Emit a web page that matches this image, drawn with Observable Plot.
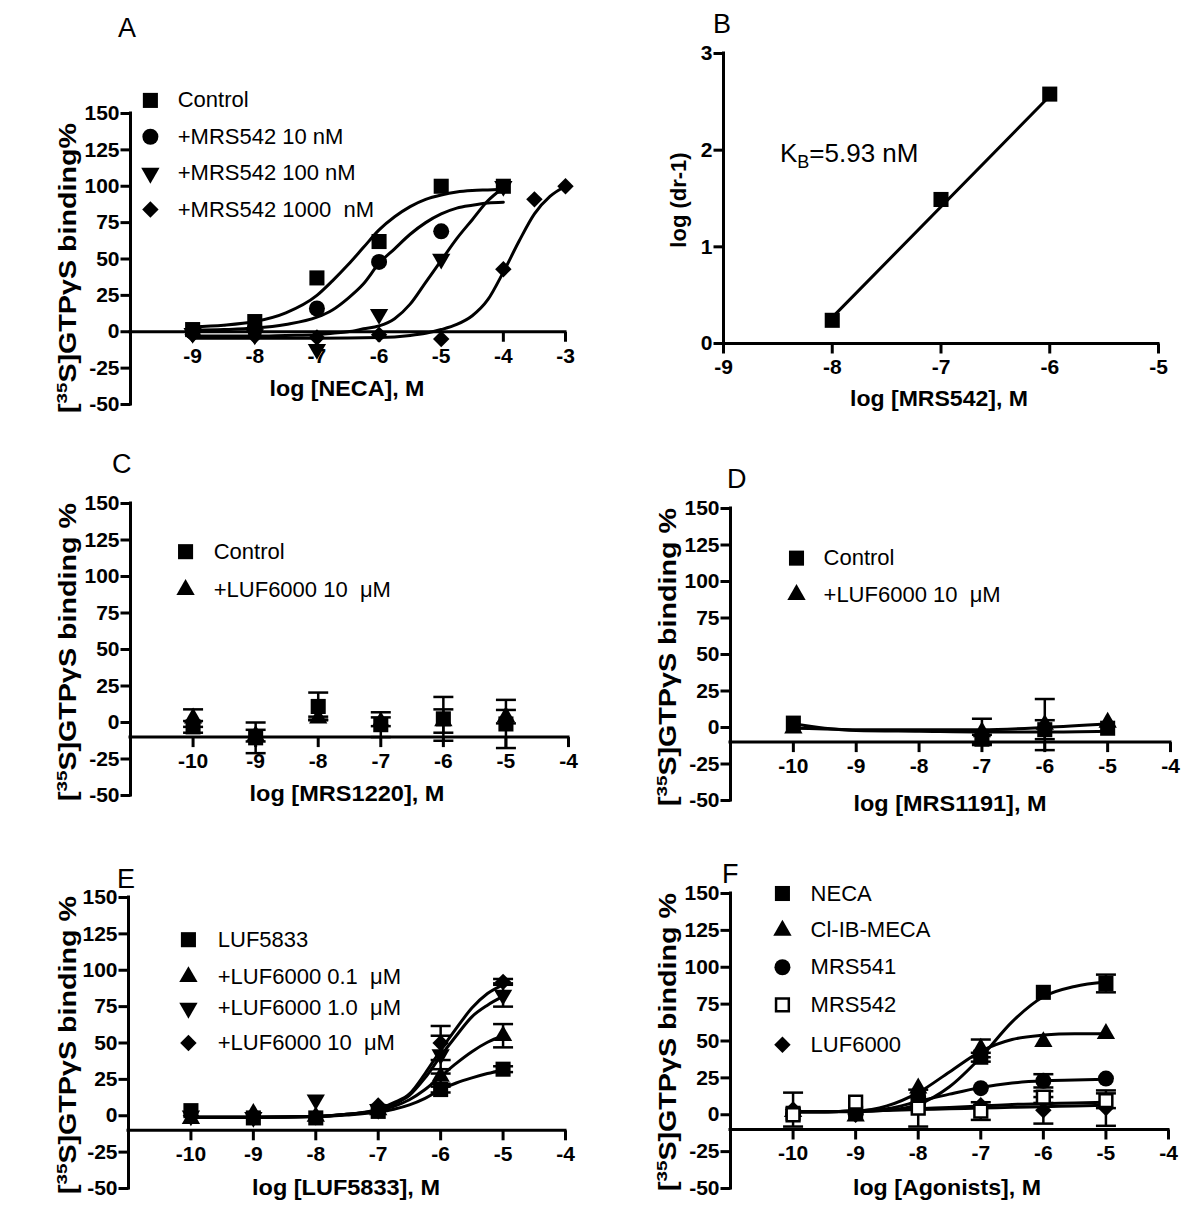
<!DOCTYPE html>
<html><head><meta charset="utf-8">
<script src="https://cdn.jsdelivr.net/npm/d3@7"></script>
<script src="https://cdn.jsdelivr.net/npm/@observablehq/plot@0.6"></script>
<style>
body{margin:0;background:#fff;}
#fig{position:relative;width:1200px;height:1220px;background:#fff;overflow:hidden;}
</style></head><body><div id="fig"></div>
<script>
// ---------------- DATA ----------------
// Panel A
const aDose = [-9, -8, -7, -6, -5, -4];
const aControl = [1.5, 7, 37, 62, 100, 100];
const aMrs10Dose = [-9, -8, -7, -6, -5];
const aMrs10 = [0, 2, 16, 48, 69];
const aMrs100 = [-1, -2, -12, 12, 50, 100];
const aMrs1000Dose = [-9, -8, -7, -6, -5, -4, -3.5, -3];
const aMrs1000 = [-2, -3, -4, -2, -5, 43, 91, 100];
const aFitDose = [-9, -8.5, -8, -7.5, -7, -6.75, -6.5, -6.25, -6, -5.75, -5.5, -5.25, -5, -4.75, -4.5, -4.25, -4];
const aFitControl = [3.5, 4.5, 7, 13, 25, 35, 46, 58, 70, 79, 86, 91, 94, 96, 97, 97.5, 98];
const aFitMrs10 = [1, 1.5, 2.5, 5, 10, 15, 23, 33, 47, 57, 67, 75, 81, 85, 87, 88.5, 89];
const aFitMrs100 = [-3, -3, -3, -2.5, -2, -1, 0, 2, 4, 9, 19, 34, 49, 64, 77, 90, 99];
const aFit1000Dose = [-9, -8, -7, -6, -5.5, -5.25, -5, -4.75, -4.5, -4.25, -4, -3.75, -3.5, -3.25, -3];
const aFitMrs1000 = [-4.5, -4.5, -4.5, -4, -2.5, -1, 1.5, 5, 11, 22, 41, 62, 81, 93, 100];
const aLegend = ["Control", "+MRS542 10 nM", "+MRS542 100 nM", "+MRS542 1000\u00a0 nM"];

// Panel B
const bDose = [-8, -7, -6];
const bLogDr = [0.24, 1.49, 2.58];
const bFitDose = [-8, -6];
const bFit = [0.27, 2.56];

// Panel C
const cDose = [-10, -9, -8, -7, -6, -5];
const cControl = [-3, -10.5, 11, -1.5, 2.5, -1];
const cControlErr = [4, 10.5, 9.5, 8.5, 15, 16.5];
const cLuf = [3, -9, 3, 0.5, 1, 4];
const cLufErr = [6, 4, 1, 3, 8, 4.6];
const cLegend = ["Control", "+LUF6000 10\u00a0 \u03bcM"];

// Panel D
const dDose = [-10, -7, -6, -5];
const dControl = [3, -8, -1.5, -0.5];
const dControlErr = [0, 3, 6.5, 0];
const dLuf = [-0.5, -3, 2, 3.5];
const dLufErr = [0, 9, 17.5, 0];
const dFitDose = [-10, -9.5, -9, -8, -7, -6, -5];
const dFitControl = [2.5, -0.5, -2, -2.5, -3, -3, -2.5];
const dFitLuf = [-0.5, -1, -1.5, -1.5, -1.5, 0, 2.5];
const dLegend = ["Control", "+LUF6000 10\u00a0 \u03bcM"];

// Panel E
const eDose = [-10, -9, -8, -7, -6, -5];
const eLuf5833 = [3.5, -1.5, -1.5, 3, 18, 32];
const eLuf5833Err = [0, 0, 0, 0, 2, 2];
const eLuf01 = [-2, 1.5, -0.5, 4, 27, 55];
const eLuf01Err = [0, 0, 0, 0, 5, 8];
const eLuf1 = [0, -1, 11, 4.5, 42, 83];
const eLuf1Err = [0, 0, 0, 0, 13, 8];
const eLuf10 = [0, -1, -1, 7, 50, 92];
const eLuf10Err = [0, 0, 0, 0, 11.7, 2];
const eFitDose = [-10, -9, -8, -7.5, -7, -6.75, -6.5, -6.25, -6, -5.75, -5.5, -5.25, -5];
const eFitLuf5833 = [-1, -1, -0.5, 0.5, 2.5, 4.5, 7.5, 12, 18, 22.5, 26, 29, 31.5];
const eFitLuf01 = [-1, -1, -0.5, 1, 3.5, 6.5, 11, 18, 27, 36, 44, 50.5, 55];
const eFitLuf1 = [-1, -1, -0.5, 1, 4, 8, 14, 26, 41, 55, 68, 76, 82];
const eFitLuf10 = [-1, -1, -0.5, 1, 4.5, 9, 15, 29, 45, 60, 74, 84, 90];
const eLegend = ["LUF5833", "+LUF6000 0.1\u00a0 \u03bcM", "+LUF6000 1.0\u00a0 \u03bcM", "+LUF6000 10\u00a0 \u03bcM"];

// Panel F
const fDose = [-10, -9, -8, -7, -6, -5];
const fNeca = [1, 1, 10, 39, 83, 89];
const fNecaErr = [0, 0, 0, 3, 0, 6];
const fClib = [2, -1, 18, 45, 49.5, 55];
const fClibErr = [0, 0, 0, 6, 0, 0];
const fMrs541 = [1, 1, 12, 18, 23, 24.5];
const fMrs541Err = [0, 0, 0, 0, 4.5, 0];
const fMrs542 = [0, 8.5, 4.5, 2.5, 12, 9.5];
const fMrs542Err = [0, 0, 12.5, 6, 4, 5];
const fLuf = [3.5, 0, 8, 6.5, 3, 4.5];
const fLufErr = [11.5, 0, 0, 0, 9, 12];
const fFitDose = [-10, -9.5, -9, -8.5, -8, -7.5, -7, -6.5, -6, -5.5, -5];
const fFitNeca = [2, 2, 2, 3, 7, 19, 39, 63, 80, 87, 90];
const fFitClib = [2, 2, 2.5, 6, 15, 29, 43, 51, 54, 55, 55];
const fFitMrs541 = [2, 2, 2.5, 4, 9, 14, 18.5, 21.5, 23, 23.5, 24];
const fFitMrs542 = [2, 2, 2.5, 3, 4, 5, 6, 7, 7.5, 8, 8.5];
const fFitLuf = [2, 2, 2.5, 3, 3.5, 4, 4.5, 5, 5.5, 6, 6.5];
const fLegend = ["NECA", "Cl-IB-MECA", "MRS541", "MRS542", "LUF6000"];

const pctTicks = [-50, -25, 0, 25, 50, 75, 100, 125, 150];

// ---------------- helpers ----------------
const FONT = '"Liberation Sans", Arial, Helvetica, sans-serif';
const S3 = Math.sqrt(3);
const vTick = {draw(c){ c.moveTo(0, 0); c.lineTo(0, 10); }};
const hTick = {draw(c){ c.moveTo(0, 0); c.lineTo(-10, 0); }};
const capSym = {draw(c){ c.moveTo(-10, 0); c.lineTo(10, 0); }};
const triDown = {draw(c, size){
  const y = -Math.sqrt(size / (S3 * 3));
  c.moveTo(0, -y * 2); c.lineTo(-S3 * y, y); c.lineTo(S3 * y, y); c.closePath();
}};
const SYM = {
  square: {symbol: "square", r: 8.5, fill: "black"},
  circle: {symbol: "circle", r: 8, fill: "black"},
  triangle: {symbol: "triangle", r: 6.8, fill: "black"},
  triDown: {symbol: triDown, r: 6.8, fill: "black"},
  diamond: {symbol: "diamond2", r: 7.4, fill: "black"},
  open: {symbol: "square", r: 7.2, fill: "white", stroke: "black", strokeWidth: 2.5}
};

const zip = (xs, ys, es) => xs.map((x, i) => ({x, y: ys[i], err: es ? es[i] : 0}));

function curve(xs, ys) {
  return Plot.line(zip(xs, ys), {x: "x", y: "y", stroke: "black", strokeWidth: 3, curve: "monotone-x"});
}
function errMarks(rows) {
  const e = rows.filter(d => d.err > 0);
  return [
    Plot.ruleX(e, {x: "x", y1: d => d.y - d.err, y2: d => d.y + d.err, stroke: "black", strokeWidth: 2.5}),
    Plot.dot(e.flatMap(d => [{x: d.x, y: d.y - d.err}, {x: d.x, y: d.y + d.err}]),
      {x: "x", y: "y", symbol: capSym, stroke: "black", strokeWidth: 2.5, fill: "none"})
  ];
}
function pts(rows, s) {
  return Plot.dot(rows, {x: "x", y: "y", symbol: s.symbol, r: s.r, fill: s.fill,
    stroke: s.stroke || "none", strokeWidth: s.strokeWidth || 0});
}
function legend(labels, syms, sx, tx, ys) {
  const rows = labels.map((label, i) => ({label, y: ys[i], s: syms[i]}));
  return [
    ...rows.map(r => Plot.dot([r], {x: () => sx, y: "y", symbol: r.s.symbol, r: r.s.r, fill: r.s.fill,
      stroke: r.s.stroke || "none", strokeWidth: r.s.strokeWidth || 0})),
    Plot.text(rows, {x: () => tx, y: "y", text: "label", textAnchor: "start", fontSize: 22, fontFamily: FONT})
  ];
}

const fig = document.getElementById("fig");
function panel(cfg) {
  const [x0, x1] = cfg.xDomain;
  const [mt, mr, mb, ml] = cfg.margin;
  const svg = Plot.plot({
    width: cfg.width, height: cfg.height,
    marginTop: mt, marginRight: mr, marginBottom: mb, marginLeft: ml,
    style: {fontFamily: FONT, background: "transparent", overflow: "visible", color: "black"},
    x: {domain: cfg.xDomain, axis: null},
    y: {domain: cfg.yDomain, axis: null},
    marks: [
      ...cfg.marks,
      Plot.ruleX([x0], {x: d => d, y1: () => cfg.yDomain[0], y2: () => cfg.yDomain[1], stroke: "black", strokeWidth: 3, strokeLinecap: "square"}),
      Plot.dot(cfg.yTicks, {x: () => x0, y: d => d, symbol: hTick, stroke: "black", strokeWidth: 3, fill: "none"}),
      Plot.text(cfg.yTicks, {x: () => x0, y: d => d, text: d => String(d), dx: -11, textAnchor: "end",
        fontWeight: "bold", fontSize: 21, fontFamily: FONT}),
      Plot.ruleY([cfg.axisY], {y: d => d, x1: () => x0, x2: () => x1, stroke: "black", strokeWidth: 3, strokeLinecap: "square"}),
      Plot.dot(cfg.xTicks, {x: d => d, y: () => cfg.axisY, symbol: vTick, stroke: "black", strokeWidth: 3, fill: "none"}),
      Plot.text(cfg.xTicks, {x: d => d, y: () => cfg.axisY, text: d => String(d), dy: 16, lineAnchor: "top",
        fontWeight: "bold", fontSize: 21, fontFamily: FONT})
    ]
  });
  svg.style.position = "absolute";
  svg.style.left = cfg.left + "px";
  svg.style.top = cfg.top + "px";
  fig.appendChild(svg);
}

// ---------------- Panel A ----------------
{
  const ctl = zip(aDose, aControl), m10 = zip(aMrs10Dose, aMrs10), m100 = zip(aDose, aMrs100), m1000 = zip(aMrs1000Dose, aMrs1000);
  panel({left: 0, top: 0, width: 600, height: 430, margin: [113, 35, 26, 130],
    xDomain: [-10, -3], yDomain: [-50, 150], xTicks: [-9, -8, -7, -6, -5, -4, -3], yTicks: pctTicks, axisY: 0,
    marks: [
      curve(aFitDose, aFitControl), curve(aFitDose, aFitMrs10), curve(aFitDose, aFitMrs100), curve(aFit1000Dose, aFitMrs1000),
      pts(m1000, SYM.diamond), pts(m100, SYM.triDown), pts(m10, SYM.circle), pts(ctl, SYM.square),
      ...legend(aLegend, [SYM.square, SYM.circle, SYM.triDown, SYM.diamond], -9.68, -9.24, [159, 134, 109, 84])
    ]});
}
// ---------------- Panel B ----------------
panel({left: 600, top: 0, width: 600, height: 430, margin: [53, 42, 87, 123],
  xDomain: [-9, -5], yDomain: [0, 3], xTicks: [-9, -8, -7, -6, -5], yTicks: [0, 1, 2, 3], axisY: 0,
  marks: [
    Plot.line(zip(bFitDose, bFit), {x: "x", y: "y", stroke: "black", strokeWidth: 3}),
    pts(zip(bDose, bLogDr), SYM.square)
  ]});
// ---------------- Panel C ----------------
{
  const ctl = zip(cDose, cControl, cControlErr), luf = zip(cDose, cLuf, cLufErr);
  panel({left: 0, top: 430, width: 600, height: 400, margin: [73, 32, 35, 130],
    xDomain: [-11, -4], yDomain: [-50, 150], xTicks: [-10, -9, -8, -7, -6, -5, -4], yTicks: pctTicks, axisY: -10,
    marks: [
      ...errMarks(ctl), ...errMarks(luf),
      pts(ctl, SYM.square), pts(luf, SYM.triangle),
      ...legend(cLegend, [SYM.square, SYM.triangle], -10.12, -9.67, [117, 91])
    ]});
}
// ---------------- Panel D ----------------
{
  const ctl = zip(dDose, dControl, dControlErr), luf = zip(dDose, dLuf, dLufErr);
  panel({left: 600, top: 430, width: 600, height: 400, margin: [78, 30, 30, 130],
    xDomain: [-11, -4], yDomain: [-50, 150], xTicks: [-10, -9, -8, -7, -6, -5, -4], yTicks: pctTicks, axisY: -10,
    marks: [
      ...errMarks(ctl), ...errMarks(luf),
      curve(dFitDose, dFitControl), curve(dFitDose, dFitLuf),
      pts(luf, SYM.triangle), pts(ctl, SYM.square),
      ...legend(dLegend, [SYM.square, SYM.triangle], -9.95, -9.52, [116, 91])
    ]});
}
// ---------------- Panel E ----------------
{
  const s0 = zip(eDose, eLuf5833, eLuf5833Err), s1 = zip(eDose, eLuf01, eLuf01Err),
        s2 = zip(eDose, eLuf1, eLuf1Err), s3 = zip(eDose, eLuf10, eLuf10Err);
  panel({left: 0, top: 830, width: 600, height: 390, margin: [67, 35, 32, 128],
    xDomain: [-11, -4], yDomain: [-50, 150], xTicks: [-10, -9, -8, -7, -6, -5, -4], yTicks: pctTicks, axisY: -10,
    marks: [
      ...errMarks(s0), ...errMarks(s1), ...errMarks(s2), ...errMarks(s3),
      curve(eFitDose, eFitLuf5833), curve(eFitDose, eFitLuf01), curve(eFitDose, eFitLuf1), curve(eFitDose, eFitLuf10),
      pts(s0, SYM.square), pts(s1, SYM.triangle), pts(s2, SYM.triDown), pts(s3, SYM.diamond),
      ...legend(eLegend, [SYM.square, SYM.triangle, SYM.triDown, SYM.diamond], -10.04, -9.57, [121, 95.5, 74, 50])
    ]});
}
// ---------------- Panel F ----------------
{
  const neca = zip(fDose, fNeca, fNecaErr), clib = zip(fDose, fClib, fClibErr), m541 = zip(fDose, fMrs541, fMrs541Err),
        m542 = zip(fDose, fMrs542, fMrs542Err), luf = zip(fDose, fLuf, fLufErr);
  panel({left: 600, top: 830, width: 600, height: 390, margin: [63, 32, 32, 130],
    xDomain: [-11, -4], yDomain: [-50, 150], xTicks: [-10, -9, -8, -7, -6, -5, -4], yTicks: pctTicks, axisY: -10,
    marks: [
      ...errMarks(neca), ...errMarks(clib), ...errMarks(m541), ...errMarks(m542), ...errMarks(luf),
      curve(fFitDose, fFitNeca), curve(fFitDose, fFitClib), curve(fFitDose, fFitMrs541), curve(fFitDose, fFitMrs542), curve(fFitDose, fFitLuf),
      pts(luf, SYM.diamond), pts(m541, SYM.circle), pts(clib, SYM.triangle), pts(neca, SYM.square), pts(m542, SYM.open),
      ...legend(fLegend, [SYM.square, SYM.triangle, SYM.circle, SYM.open, SYM.diamond], -10.17, -9.72, [150, 125, 100, 74.5, 47.5])
    ]});
}

// ---------------- overlay texts ----------------
const ov = d3.select(fig).append("svg")
  .attr("width", 1200).attr("height", 1220)
  .style("position", "absolute").style("left", "0px").style("top", "0px")
  .style("pointer-events", "none").style("font-family", FONT);

const letters = [["A", 118, 37], ["B", 713, 33], ["C", 112, 473], ["D", 727, 488], ["E", 117, 888], ["F", 722, 883]];
ov.selectAll("text.letter").data(letters).join("text").attr("class", "letter")
  .attr("x", d => d[1]).attr("y", d => d[2]).attr("font-size", 27).text(d => d[0]);

const xTitles = [["log [NECA], M", 347, 396, 155], ["log [MRS542], M", 939, 406, 178], ["log [MRS1220], M", 347, 801, 195],
  ["log [MRS1191], M", 950, 811, 193], ["log [LUF5833], M", 346, 1195, 188], ["log [Agonists], M", 947, 1195, 188]];
ov.selectAll("text.xt").data(xTitles).join("text").attr("class", "xt")
  .attr("x", d => d[1]).attr("y", d => d[2]).attr("font-size", 22).attr("font-weight", "bold")
  .attr("text-anchor", "middle").attr("textLength", d => d[3]).attr("lengthAdjust", "spacingAndGlyphs").text(d => d[0]);

const yTitles = [[76, 268, "binding%", 290], [76, 652, "binding %", 298], [676, 657, "binding %", 298], [76, 1045, "binding %", 298], [676, 1042, "binding %", 298]];
yTitles.forEach(([x, y, tail, len]) => {
  const g = ov.append("g").attr("transform", `translate(${x},${y}) rotate(-90)`);
  const t = g.append("text").attr("text-anchor", "middle").attr("font-size", 23).attr("font-weight", "bold")
    .attr("textLength", len).attr("lengthAdjust", "spacingAndGlyphs");
  t.append("tspan").text("[");
  t.append("tspan").attr("font-size", 15).attr("dy", -9).text("35");
  t.append("tspan").attr("dy", 9).text("S]GTP\u03b3S " + tail);
});
ov.append("text").attr("transform", "translate(686,200) rotate(-90)").attr("text-anchor", "middle")
  .attr("font-size", 22).attr("font-weight", "bold").text("log (dr-1)");

const kb = ov.append("text").attr("x", 780).attr("y", 162).attr("font-size", 26);
kb.append("tspan").text("K");
kb.append("tspan").attr("font-size", 18).attr("dy", 6).text("B");
kb.append("tspan").attr("dy", -6).text("=5.93 nM");
</script></body></html>
